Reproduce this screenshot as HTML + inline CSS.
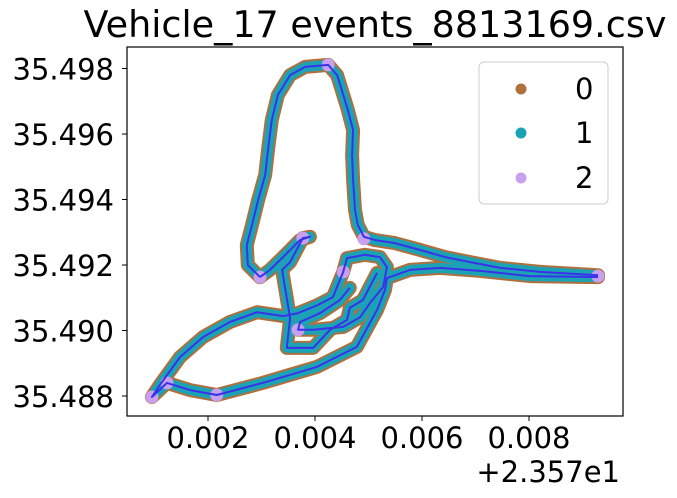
<!DOCTYPE html>
<html><head><meta charset="utf-8"><style>
body{margin:0;background:#fff;}
svg{display:block;font-family:"DejaVu Sans","Liberation Sans",sans-serif;}
</style></head><body>
<svg id="chart" width="677" height="498">
<text x="375" y="37" font-size="36.5" text-anchor="middle">Vehicle_17 events_8813169.csv</text>
<g id="plot"></g>
<rect x="127" y="47" width="496" height="369" fill="none" stroke="#000" stroke-width="1.2"/>
<g id="ticks"></g>
<text x="620" y="482" font-size="29" text-anchor="end">+2.357e1</text>
<g>
<rect x="479" y="62" width="129" height="142" rx="5" fill="#fff" stroke="#ccc"/>
<circle cx="521" cy="89" r="5.5" fill="#b0703c"/>
<text x="575" y="99" font-size="29">0</text>
<circle cx="521" cy="133" r="5.5" fill="#1ba3b5"/>
<text x="575" y="143" font-size="29">1</text>
<circle cx="521" cy="178" r="5.5" fill="#c9a0f0"/>
<text x="575" y="188" font-size="29">2</text>
</g>
</svg>
<script>
const track1Lon=[0.002972,0.002744,0.002726,0.002823,0.002937,0.003069,0.003122,0.003192,0.003306,0.003535,0.003816,0.004246,0.004413,0.004501,0.004615,0.004712,0.004694,0.004712,0.004747,0.004800,0.004914,0.005125,0.005494,0.005959,0.006434,0.006899,0.007462,0.008208,0.009289];
const track1Lat=[35.49163,35.49200,35.49261,35.49322,35.49398,35.49475,35.49551,35.49643,35.49719,35.49780,35.49805,35.49811,35.49780,35.49734,35.49673,35.49612,35.49536,35.49460,35.49368,35.49322,35.49286,35.49276,35.49267,35.49246,35.49224,35.49209,35.49191,35.49179,35.49169];
const track2Lon=[0.009289,0.008015,0.007084,0.006337,0.005775,0.005344,0.005309,0.005160,0.004782,0.004035,0.003025,0.002164,0.001664,0.001233,0.000952,0.001101,0.001479,0.001909,0.002410,0.002920,0.003403,0.003684,0.004053,0.004334,0.004527,0.004598,0.004931,0.005213,0.005344,0.005274,0.005028,0.004844,0.004527,0.003965,0.003684,0.003719,0.004097,0.004466,0.004650];
const track2Lat=[35.49163,35.49166,35.49182,35.49191,35.49185,35.49160,35.49124,35.49063,35.48950,35.48889,35.48840,35.48803,35.48818,35.48840,35.48797,35.48834,35.48919,35.48980,35.49026,35.49056,35.49044,35.49053,35.49078,35.49102,35.49179,35.49221,35.49231,35.49224,35.49194,35.49133,35.49084,35.49041,35.49011,35.49002,35.49002,35.49026,35.49053,35.49093,35.49130];
const track3Lon=[0.005160,0.004896,0.004650,0.004598,0.004281,0.003965,0.003473,0.003535,0.003385,0.003535,0.003772,0.003904,0.003719,0.003403,0.003157,0.002972];
const track3Lat=[35.49176,35.49093,35.49069,35.49032,35.49002,35.48947,35.48947,35.49038,35.49185,35.49209,35.49282,35.49286,35.49276,35.49224,35.49185,35.49163];
const stopLon=[0.002972,0.004246,0.004914,0.009289,0.003772,0.004527,0.003684,0.000952,0.001233,0.002164];
const stopLat=[35.49163,35.49811,35.49280,35.49166,35.49282,35.49179,35.49002,35.48797,35.48840,35.48803];
const xTicks=[0.002,0.004,0.006,0.008];
const xTickLabels=["0.002","0.004","0.006","0.008"];
const yTicks=[35.488,35.490,35.492,35.494,35.496,35.498];
const yTickLabels=["35.488","35.490","35.492","35.494","35.496","35.498"];

const NS="http://www.w3.org/2000/svg";
function xs(v){return 101+v*53500;}
function ys(v){return 396-(v-35.488)*32750;}
const plot=document.getElementById('plot');
const ticks=document.getElementById('ticks');
function mk(tag,attrs,parent){const e=document.createElementNS(NS,tag);for(const k in attrs)e.setAttribute(k,attrs[k]);parent.appendChild(e);return e;}
const tracks=[[track1Lon,track1Lat],[track2Lon,track2Lat],[track3Lon,track3Lat]];
function pts(t){return t[0].map((v,i)=>xs(v).toFixed(1)+','+ys(t[1][i]).toFixed(1)).join(' ');}
tracks.forEach((t,i)=>{
  const p=mk('polyline',{points:pts(t),fill:'none',stroke:'#b0703c','stroke-width':14,'stroke-linejoin':'round','stroke-linecap':'round'},plot);
  
  
});
tracks.forEach((t,i)=>{
  const p=mk('polyline',{points:pts(t),fill:'none',stroke:'#1ba3b5','stroke-width':10,'stroke-linejoin':'round','stroke-linecap':'round'},plot);
  
  
});
stopLon.forEach((v,i)=>{
  const c=mk('circle',{cx:xs(v),cy:ys(stopLat[i]),r:6.5,fill:'#c9a0f0'},plot);
  
  
});
tracks.forEach((t,i)=>{
  const p=mk('polyline',{points:pts(t),fill:'none',stroke:'#3a32e8','stroke-width':2,'stroke-linejoin':'round'},plot);
  
  
});
xTicks.forEach((v,i)=>{
  const x=xs(v);
  const l=mk('line',{x1:x,x2:x,y1:416,y2:421,stroke:'#000','stroke-width':1},ticks);
  
  
  const t=mk('text',{x:x,y:448,'font-size':29,'text-anchor':'middle'},ticks);
  t.textContent=xTickLabels[i];
  
  
});
yTicks.forEach((v,i)=>{
  const y=ys(v);
  const l=mk('line',{x1:122,x2:127,y1:y,y2:y,stroke:'#000','stroke-width':1},ticks);
  
  
  const t=mk('text',{x:114,y:y+11,'font-size':29,'text-anchor':'end'},ticks);
  t.textContent=yTickLabels[i];
  
  
});
</script>
</body></html>
